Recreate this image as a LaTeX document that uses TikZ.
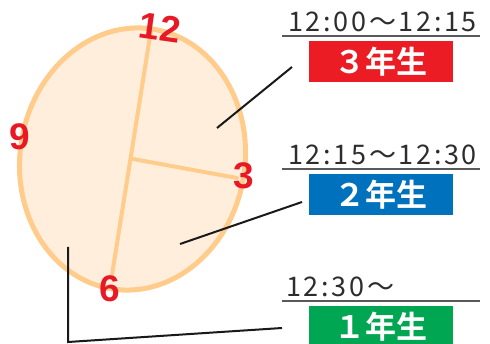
\documentclass[tikz,border=0pt]{standalone}
\usepackage{fontspec}
\newfontfamily\jp[BoldFont={Noto Sans CJK JP Bold}]{Noto Sans CJK JP}
\newfontfamily\tm[LetterSpace=10]{Noto Sans CJK JP}
\newfontfamily\num{Liberation Sans}
\definecolor{clkfill}{RGB}{255,238,219}
\definecolor{clkline}{RGB}{255,204,140}
\definecolor{numred}{RGB}{232,24,36}
\definecolor{boxred}{RGB}{236,28,36}
\definecolor{boxblue}{RGB}{0,113,188}
\definecolor{boxgreen}{RGB}{0,166,81}
\definecolor{txtgray}{RGB}{45,45,45}
\tikzset{
  hand/.style={draw=clkline, line width=4pt, line cap=round},
  clocknum/.style={text=numred, inner sep=0pt, font=\num\bfseries\fontsize{37}{37}\selectfont},
  timetext/.style={text=txtgray, inner sep=0pt, font=\tm\fontsize{27}{27}\selectfont},
  uline/.style={draw=black!65, line width=1.6pt},
  gradebox/.style={text=white, inner sep=0pt, minimum width=144pt, minimum height=41pt, font=\jp\bfseries\fontsize{31}{31}\selectfont},
  leader/.style={draw=black!90, line width=2pt}
}
\begin{document}
\begin{tikzpicture}[x=1pt,y=-1pt]
\useasboundingbox (0,0) rectangle (490,344);
\clip (0,0) rectangle (490,344);
% clock face
\draw[fill=clkfill, draw=clkline, line width=5pt, rotate around={-9:(132.5,159)}] (132.5,159) ellipse [x radius=112.5, y radius=131.5];
\coordinate (ctr) at (133,159);
\coordinate (h12) at (151,30);
\coordinate (h6) at (112,275);
\coordinate (h3) at (237,178);
\draw[hand] (h12) -- (h6);
\draw[hand] (ctr) -- (h3);
% numbers
\node[clocknum, rotate=-8] (n12) at (160,28) {12};
\node[clocknum] (n9) at (20,137) {9};
\node[clocknum] (n3) at (244,176) {3};
\node[clocknum] (n6) at (110,289) {6};
% group 3rd year
\node[timetext, anchor=base] (t3) at (382.5,32) {12:00～12:15};
\coordinate (u3a) at (282,36); \coordinate (u3b) at (480,36);
\draw[uline] (u3a) -- (u3b);
\node[gradebox, fill=boxred] (b3) at (381,61.5) {３年生};
% group 2nd year
\node[timetext, anchor=base] (t2) at (382.5,165) {12:15～12:30};
\coordinate (u2a) at (282,169); \coordinate (u2b) at (480,169);
\draw[uline] (u2a) -- (u2b);
\node[gradebox, fill=boxblue] (b2) at (381,195) {２年生};
% group 1st year
\node[timetext, anchor=base west] (t1) at (286,297) {12:30～};
\coordinate (u1a) at (282,301); \coordinate (u1b) at (480,301);
\draw[uline] (u1a) -- (u1b);
\node[gradebox, fill=boxgreen] (b1) at (381,327) {１年生};
% leaders
\coordinate (l3a) at (217,128); \coordinate (l3b) at (292,67);
\draw[leader] (l3a) -- (l3b);
\coordinate (l2a) at (180,244); \coordinate (l2b) at (302,202);
\draw[leader] (l2a) -- (l2b);
\coordinate (l1a) at (68,247); \coordinate (l1b) at (68,342); \coordinate (l1c) at (282,328);
\draw[leader] (l1a) -- (l1b) -- (l1c);
\end{tikzpicture}
\end{document}
